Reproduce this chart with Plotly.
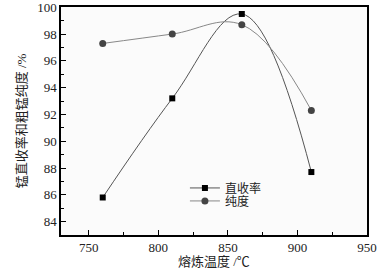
import plotly.graph_objects as go

temps = [760, 810, 860, 910]
recovery = [85.8, 93.2, 99.5, 87.7]
purity = [97.3, 98.0, 98.7, 92.3]
x_ticks = [750, 800, 850, 900, 950]
y_ticks = [84, 86, 88, 90, 92, 94, 96, 98, 100]

serif = "Liberation Serif, Times New Roman, Noto Sans CJK SC, serif"

fig = go.Figure()
fig.add_trace(go.Scatter(x=temps, y=recovery, name="直收率", mode="lines+markers",
                         line=dict(shape="spline", smoothing=1.1, color="#555555", width=1),
                         marker=dict(symbol="square", size=6, color="black"), legend="legend"))
fig.add_trace(go.Scatter(x=temps, y=purity, name="纯度", mode="lines+markers",
                         line=dict(shape="spline", smoothing=1.1, color="#888888", width=1),
                         marker=dict(symbol="circle", size=7, color="#444444"), legend="legend2"))

axis_common = dict(showline=True, linecolor="black", linewidth=1.5, mirror=True,
                   ticks="inside", ticklen=5, tickcolor="black", showgrid=False, zeroline=False,
                   automargin=False, ticklabeloverflow="allow",
                   tickfont=dict(family=serif, size=13, color="#222222"))
fig.update_xaxes(range=[730, 950.01], tickvals=x_ticks,
                 minor=dict(ticks="inside", ticklen=3, dtick=25, tick0=750, tickcolor="black"),
                 **axis_common)
fig.update_yaxes(range=[83, 100.02], tickvals=y_ticks,
                 minor=dict(ticks="inside", ticklen=3, dtick=1, tick0=84, tickcolor="black"),
                 title=dict(text="锰直收率和粗锰纯度 /%", font=dict(family=serif, size=13, color="#222222"), standoff=8),
                 **axis_common)
fig.add_annotation(text="熔炼温度 /℃", xref="paper", yref="paper", x=0.5, y=-0.118,
                   xanchor="center", yanchor="middle", showarrow=False,
                   font=dict(family=serif, size=13, color="#222222"))
leg_common = dict(xanchor="left", yanchor="top", bgcolor="rgba(0,0,0,0)",
                  font=dict(family=serif, size=12, color="#222222"), itemsizing="trace")
fig.update_layout(width=389, height=269, margin=dict(l=61, r=22, t=7, b=34),
                  paper_bgcolor="white", plot_bgcolor="#fbfbfb",
                  showlegend=True,
                  legend=dict(x=0.405, y=0.27, **leg_common),
                  legend2=dict(x=0.405, y=0.213, **leg_common))
fig.write_html("out.html", config={"displayModeBar": False},
               post_script="document.body.style.margin='0';document.body.style.padding='0';")
